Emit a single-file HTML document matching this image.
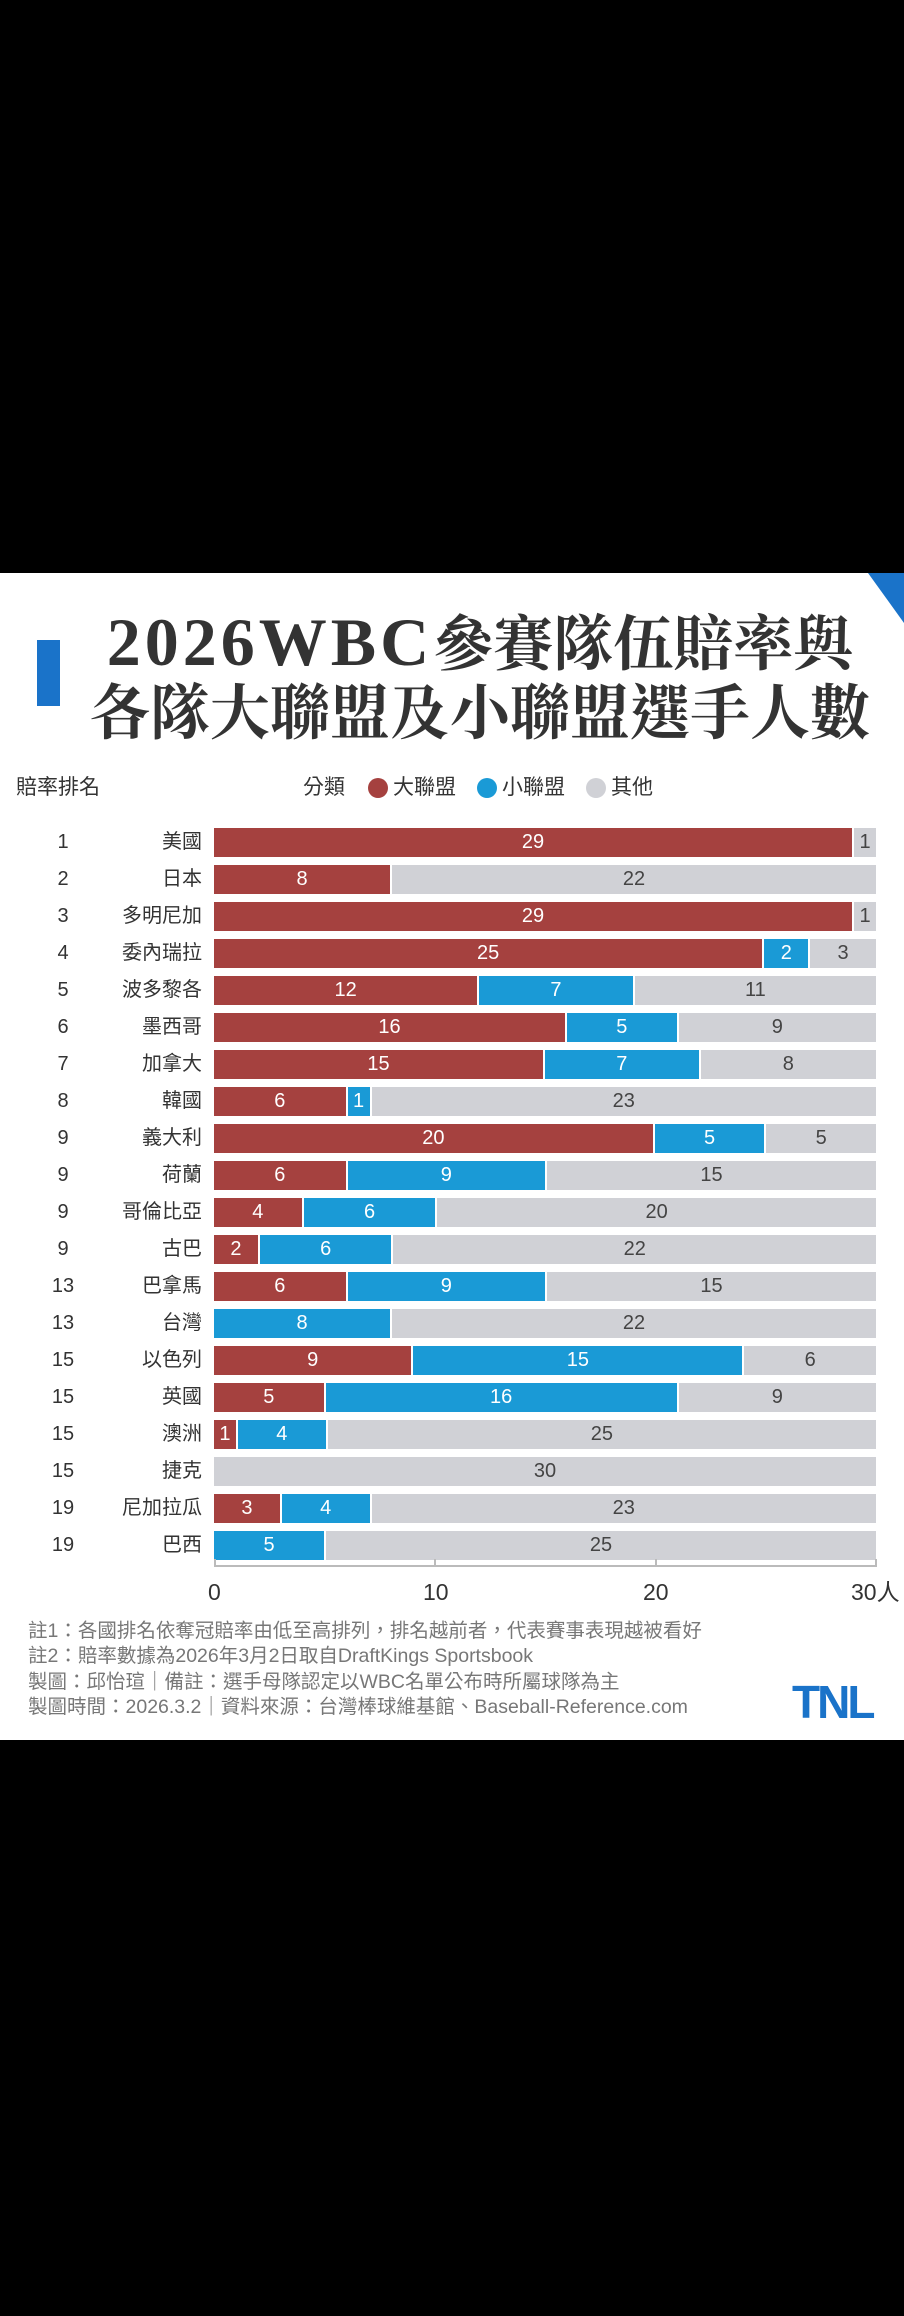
<!DOCTYPE html>
<html><head><meta charset="utf-8"><style>
*{margin:0;padding:0;box-sizing:border-box}
body{width:904px;height:2316px;background:#000;position:relative;overflow:hidden;font-family:"Liberation Sans","Noto Sans CJK TC",sans-serif}
#card{position:absolute;left:0;top:573px;width:904px;height:1167px;background:#fff}
.t{position:absolute;left:0;width:960px;text-align:center;font-family:"Liberation Serif","Noto Serif CJK TC",serif;font-weight:bold;font-size:60px;color:#333;line-height:64px;white-space:nowrap}
.lat{font-size:68px;letter-spacing:4px}
.r{position:absolute;left:0;width:904px;height:29px}
.k{position:absolute;left:40px;width:46px;text-align:center;font-size:20px;line-height:29px;color:#333}
.n{position:absolute;right:702px;font-size:20px;line-height:29px;color:#333;white-space:nowrap}
.b{position:absolute;left:214px;width:662px;height:29px;display:flex;gap:2px}
.b i{font-style:normal;display:block;height:29px;line-height:29px;text-align:center;font-size:20px;color:#fff;overflow:visible;white-space:nowrap}
.M{background:#a5413f}.L{background:#1a9ad6}.O{background:#d0d1d6;color:#444!important}
.leg{position:absolute;top:776px;font-size:21px;color:#333;line-height:24px}
.dot{position:absolute;top:778px;width:20px;height:20px;border-radius:50%}
.ax{position:absolute;font-size:23px;color:#333;top:1578px;line-height:28px}
.note{position:absolute;left:28px;font-size:19.5px;color:#777;white-space:nowrap;line-height:22px}
</style></head><body>
<div id="card"></div>
<div style="position:absolute;left:37px;top:640px;width:23px;height:66px;background:#1a73c9"></div>
<div style="position:absolute;right:0;top:573px;width:0;height:0;border-top:50px solid #1a73c9;border-left:36px solid transparent"></div>
<div class="t" style="top:610px"><span class="lat">2026WBC</span>參賽隊伍賠率與</div>
<div class="t" style="top:682px">各隊大聯盟及小聯盟選手人數</div>
<div class="leg" style="left:16px">賠率排名</div>
<div class="leg" style="left:303px">分類</div>
<div class="dot" style="left:368px;background:#a5413f"></div><div class="leg" style="left:393px">大聯盟</div>
<div class="dot" style="left:477px;background:#1a9ad6"></div><div class="leg" style="left:502px">小聯盟</div>
<div class="dot" style="left:586px;background:#d0d1d6"></div><div class="leg" style="left:611px">其他</div>

<div class="r" style="top:828px"><span class="k">1</span><span class="n">美國</span><div class="b"><i class="M" style="flex:29">29</i><i class="O" style="flex:1">1</i></div></div>
<div class="r" style="top:865px"><span class="k">2</span><span class="n">日本</span><div class="b"><i class="M" style="flex:8">8</i><i class="O" style="flex:22">22</i></div></div>
<div class="r" style="top:902px"><span class="k">3</span><span class="n">多明尼加</span><div class="b"><i class="M" style="flex:29">29</i><i class="O" style="flex:1">1</i></div></div>
<div class="r" style="top:939px"><span class="k">4</span><span class="n">委內瑞拉</span><div class="b"><i class="M" style="flex:25">25</i><i class="L" style="flex:2">2</i><i class="O" style="flex:3">3</i></div></div>
<div class="r" style="top:976px"><span class="k">5</span><span class="n">波多黎各</span><div class="b"><i class="M" style="flex:12">12</i><i class="L" style="flex:7">7</i><i class="O" style="flex:11">11</i></div></div>
<div class="r" style="top:1013px"><span class="k">6</span><span class="n">墨西哥</span><div class="b"><i class="M" style="flex:16">16</i><i class="L" style="flex:5">5</i><i class="O" style="flex:9">9</i></div></div>
<div class="r" style="top:1050px"><span class="k">7</span><span class="n">加拿大</span><div class="b"><i class="M" style="flex:15">15</i><i class="L" style="flex:7">7</i><i class="O" style="flex:8">8</i></div></div>
<div class="r" style="top:1087px"><span class="k">8</span><span class="n">韓國</span><div class="b"><i class="M" style="flex:6">6</i><i class="L" style="flex:1">1</i><i class="O" style="flex:23">23</i></div></div>
<div class="r" style="top:1124px"><span class="k">9</span><span class="n">義大利</span><div class="b"><i class="M" style="flex:20">20</i><i class="L" style="flex:5">5</i><i class="O" style="flex:5">5</i></div></div>
<div class="r" style="top:1161px"><span class="k">9</span><span class="n">荷蘭</span><div class="b"><i class="M" style="flex:6">6</i><i class="L" style="flex:9">9</i><i class="O" style="flex:15">15</i></div></div>
<div class="r" style="top:1198px"><span class="k">9</span><span class="n">哥倫比亞</span><div class="b"><i class="M" style="flex:4">4</i><i class="L" style="flex:6">6</i><i class="O" style="flex:20">20</i></div></div>
<div class="r" style="top:1235px"><span class="k">9</span><span class="n">古巴</span><div class="b"><i class="M" style="flex:2">2</i><i class="L" style="flex:6">6</i><i class="O" style="flex:22">22</i></div></div>
<div class="r" style="top:1272px"><span class="k">13</span><span class="n">巴拿馬</span><div class="b"><i class="M" style="flex:6">6</i><i class="L" style="flex:9">9</i><i class="O" style="flex:15">15</i></div></div>
<div class="r" style="top:1309px"><span class="k">13</span><span class="n">台灣</span><div class="b"><i class="L" style="flex:8">8</i><i class="O" style="flex:22">22</i></div></div>
<div class="r" style="top:1346px"><span class="k">15</span><span class="n">以色列</span><div class="b"><i class="M" style="flex:9">9</i><i class="L" style="flex:15">15</i><i class="O" style="flex:6">6</i></div></div>
<div class="r" style="top:1383px"><span class="k">15</span><span class="n">英國</span><div class="b"><i class="M" style="flex:5">5</i><i class="L" style="flex:16">16</i><i class="O" style="flex:9">9</i></div></div>
<div class="r" style="top:1420px"><span class="k">15</span><span class="n">澳洲</span><div class="b"><i class="M" style="flex:1">1</i><i class="L" style="flex:4">4</i><i class="O" style="flex:25">25</i></div></div>
<div class="r" style="top:1457px"><span class="k">15</span><span class="n">捷克</span><div class="b"><i class="O" style="flex:30">30</i></div></div>
<div class="r" style="top:1494px"><span class="k">19</span><span class="n">尼加拉瓜</span><div class="b"><i class="M" style="flex:3">3</i><i class="L" style="flex:4">4</i><i class="O" style="flex:23">23</i></div></div>
<div class="r" style="top:1531px"><span class="k">19</span><span class="n">巴西</span><div class="b"><i class="L" style="flex:5">5</i><i class="O" style="flex:25">25</i></div></div>

<div style="position:absolute;left:214px;top:1565px;width:663px;height:2px;background:#bbb"></div>
<div style="position:absolute;left:214px;top:1559px;width:2px;height:8px;background:#bbb"></div>
<div style="position:absolute;left:434px;top:1559px;width:2px;height:8px;background:#bbb"></div>
<div style="position:absolute;left:655px;top:1559px;width:2px;height:8px;background:#bbb"></div>
<div style="position:absolute;left:875px;top:1559px;width:2px;height:8px;background:#bbb"></div>
<div class="ax" style="left:208px">0</div>
<div class="ax" style="left:423px">10</div>
<div class="ax" style="left:643px">20</div>
<div class="ax" style="left:851px">30人</div>

<div class="note" style="top:1620px">註1：各國排名依奪冠賠率由低至高排列，排名越前者，代表賽事表現越被看好</div>
<div class="note" style="top:1645px">註2：賠率數據為2026年3月2日取自DraftKings Sportsbook</div>
<div class="note" style="top:1671px">製圖：邱怡瑄｜備註：選手母隊認定以WBC名單公布時所屬球隊為主</div>
<div class="note" style="top:1696px">製圖時間：2026.3.2｜資料來源：台灣棒球維基館、Baseball-Reference.com</div>
<div style="position:absolute;left:792px;top:1680px;width:88px;height:44px;color:#1a73c9;font-family:'Liberation Sans',sans-serif;font-weight:bold;font-size:46px;line-height:44px;letter-spacing:-3px">TNL</div>
</body></html>
